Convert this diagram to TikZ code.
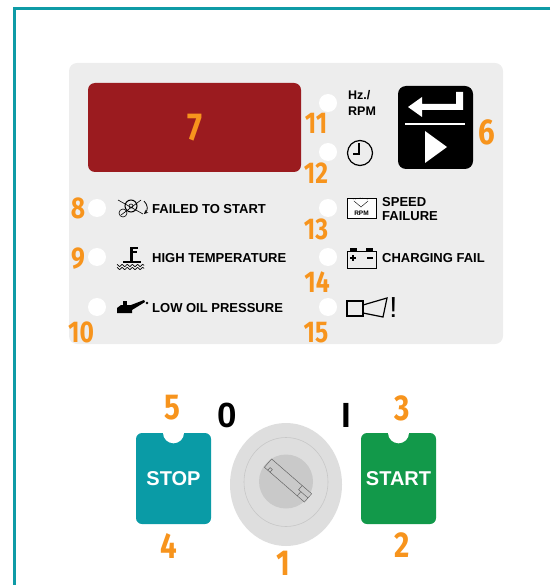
\documentclass[tikz,border=0pt]{standalone}
\usepackage{fontspec}
\setmainfont{Liberation Sans}
\newfontfamily\numfont[FakeStretch=0.82]{Fira Sans}
\usetikzlibrary{arrows,shapes}
\definecolor{numorange}{HTML}{F7941D}
\definecolor{frameteal}{HTML}{0E9BA6}
\definecolor{panelgray}{HTML}{EDEDED}
\definecolor{dispred}{HTML}{9B1B1F}
\definecolor{stopteal}{HTML}{0A9BA6}
\definecolor{startgreen}{HTML}{12994A}
\definecolor{keyouter}{HTML}{DEDEDE}
\definecolor{keyinner}{HTML}{C9C9C9}
\tikzstyle{led}=[circle,fill=white,minimum size=18pt,inner sep=0pt]
\tikzstyle{callout}=[text=numorange,font=\numfont\bfseries\fontsize{30}{30}\selectfont,inner sep=0pt]
\tikzstyle{bigcallout}=[text=numorange,font=\numfont\bfseries\fontsize{36}{36}\selectfont,inner sep=0pt]
\tikzstyle{caption}=[anchor=west,font=\bfseries\fontsize{13}{14}\selectfont,inner sep=0pt,align=left]
\tikzstyle{icon}=[draw=black,line width=1pt]
\tikzstyle{button}=[rounded corners=6pt,text=white,font=\bfseries\fontsize{20}{20}\selectfont,minimum width=75pt,minimum height=91pt]

\begin{document}
\begin{tikzpicture}[x=1pt,y=-1pt]
    \useasboundingbox (0,0) rectangle (550,585);
    % Outer frame and front panel
    \draw[frameteal,line width=3pt] (550,8.5) -- (14,8.5) -- (14,585);
    \fill[panelgray,rounded corners=8pt] (69,63) rectangle (503,344);

    % Display and enter key
    \node[fill=dispred,rounded corners=7pt,minimum width=213pt,minimum height=89pt,inner sep=0pt,
          text=numorange,font=\numfont\bfseries\fontsize{39}{39}\selectfont] (display) at (194.5,127.5) {7};
    \node[fill=black,rounded corners=8pt,minimum width=75pt,minimum height=83pt] (enterkey) at (435.5,127.5) {};
    \fill[white] (408,107) -- (422,97) -- (422,104) -- (456,104) -- (456,92) -- (463,92)
        -- (463,110) -- (422,110) -- (422,117) -- cycle;
    \draw[white,line width=2pt] (405,124) -- (465,124);
    \fill[white] (425,131) -- (447,147) -- (425,163) -- cycle;

    % Warning lamps
    \foreach \pos/\name in {{(97,208)/led8}, {(97,257)/led9}, {(97,307)/led10}, {(328,103)/led11},
                            {(328,152)/led12}, {(328,208)/led13}, {(328,257)/led14}, {(328,307)/led15}}
        \node[led] (\name) at \pos {};

    % Lamp captions
    \node[caption] (failstart) at (152,209) {FAILED TO START};
    \node[caption] (hightemp) at (152,258) {HIGH TEMPERATURE};
    \node[caption] (lowoil) at (152,308) {LOW OIL PRESSURE};
    \node[caption,font=\bfseries\fontsize{12.5}{16}\selectfont] (hzrpm) at (348,103) {Hz./\\RPM};
    \node[caption,font=\bfseries\fontsize{13}{14}\selectfont] (speedfail) at (382,209) {SPEED\\FAILURE};
    \node[caption] (chargefail) at (382,258) {CHARGING FAIL};

    % Lamp symbols
    \draw[icon] (131,206) circle (6pt);
    \draw[icon,line width=0.6pt] (131,206) circle (2pt);
    \draw[icon,line width=0.6pt] (123,213) circle (4pt);
    \draw[icon,line width=0.6pt] (118,200) -- (143,214);
    \draw[icon,line width=0.6pt] (121,215) -- (141,200);
    \draw[icon,line width=0.8pt,->,>=stealth] (144,201) .. controls (148,205) and (148,210) .. (144,214);
    \fill (130,247) rectangle (133,262);
    \fill (133,247) rectangle (138,249);
    \fill (133,251) rectangle (137,253);
    \fill (123,261) rectangle (141,263);
    \draw[line width=0.7pt] plot[domain=117:144,samples=40] (\x,{265.5+sin(\x*70)});
    \draw[line width=0.7pt] plot[domain=117:144,samples=40] (\x,{268.5+sin(\x*70)});
    \fill (117,313) -- (117,308) -- (121,305) -- (131,305) -- (144,300) -- (145,302)
        -- (132,310) -- (132,313) -- cycle;
    \fill (123,301) rectangle (127,305);
    \fill (147,303) circle (1.3pt);
    \draw[icon,line width=1.2pt] (360,153) circle (12.5pt);
    \draw[line width=1.6pt] (359,143) -- (359,154) -- (353,154);
    \draw[icon,line width=0.8pt,fill=white!90!panelgray] (347,198) rectangle (376,218);
    \draw[line width=0.4pt] (354,201) -- (361,207) -- (368,201);
    \draw[line width=0.4pt,dotted] (353,200) .. controls (361,197) .. (369,200);
    \node[font=\bfseries\fontsize{6.5}{6.5}\selectfont,inner sep=0pt] (rpmtag) at (361.5,213) {RPM};
    \draw[icon] (347,251) rectangle (376,268);
    \fill (350,248) rectangle (357,251);
    \fill (366,248) rectangle (373,251);
    \draw[line width=1.8pt] (350,258) -- (356,258) (353,255) -- (353,261) (367,258) -- (373,258);
    \draw[icon,line width=1.2pt] (347,301) rectangle (363,316);
    \draw[icon,line width=1.2pt] (363,305) -- (387,298) -- (383,317) -- (363,313);
    \node[font=\fontsize{29}{29}\selectfont,inner sep=0pt] (horn) at (393.5,307.5) {!};

    % Panel callouts
    \foreach \pos/\name/\txt in {{(78,208)/n8/8}, {(78,259)/n9/9}, {(81,332)/n10/10}, {(316,123)/n11/11},
                                 {(316,173)/n12/12}, {(316,229)/n13/13}, {(317,282)/n14/14}, {(316,333)/n15/15}}
        \node[callout] (\name) at \pos {\txt};
    \node[bigcallout] (n6) at (487,132) {6};

    % Push buttons
    \node[button,fill=stopteal] (stop) at (173.5,478.5) {STOP};
    \node[button,fill=startgreen] (start) at (398.5,478.5) {START};
    \fill[white] (stop.north) circle (10.5pt);
    \fill[white] (start.north) circle (10.5pt);

    % Key switch
    \node[ellipse,fill=keyouter,minimum width=112pt,minimum height=123pt,inner sep=0pt] (keyswitch) at (286,484.5) {};
    \draw[draw=black!22,line width=0.6pt] (286,482) ellipse (42pt and 44.5pt);
    \fill[keyinner] (286,481.5) circle (27pt);
    \begin{scope}[shift={(288,480.5)},rotate=-41,draw=black!60,line width=0.5pt]
        \draw (-26.5,-5.5) rectangle (26.5,5.5);
        \draw (-22,5.5) -- (-22,2) -- (-19,2) -- (-19,5.5);
        \draw (14,-5.5) -- (14,0) -- (26.5,0);
        \draw (17,0) -- (17,5.5);
    \end{scope}
    \node[font=\bfseries\fontsize{35}{35}\selectfont,inner sep=0pt] (off) at (227,415.5) {0};
    \node[font=\bfseries\fontsize{35}{35}\selectfont,inner sep=0pt] (on) at (346,415.5) {I};

    % Button and switch callouts
    \foreach \pos/\name/\txt in {{(172,408)/n5/5}, {(169,546)/n4/4}, {(283,563)/n1/1},
                                 {(402,408)/n3/3}, {(402,545)/n2/2}}
        \node[bigcallout] (\name) at \pos {\txt};
\end{tikzpicture}
\end{document}
